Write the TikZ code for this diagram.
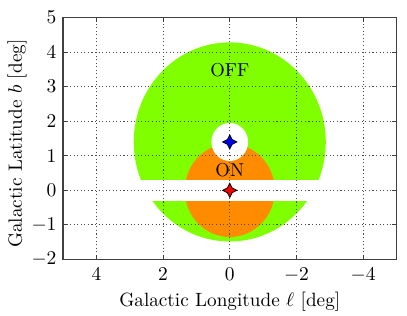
\documentclass[tikz,border=0pt]{standalone}
\usepackage{tikz}
\usepackage{amsmath}
\usetikzlibrary{
  shapes.geometric,
  positioning
}
\definecolor{regOff}{HTML}{7FFF00}
\definecolor{regOn}{HTML}{FF8C00}
\definecolor{srcRed}{HTML}{F00000}
\definecolor{srcBlue}{HTML}{0000F0}
\definecolor{axFrame}{HTML}{404040}
\tikzset{
  offregion/.style={fill=regOff},
  onregion/.style={fill=regOn},
  cutout/.style={fill=white},
  gridline/.style={line width=0.5pt, black!70, dash pattern=on 0.6pt off 1.4pt},
  frameline/.style={line width=1pt, axFrame},
  tickmark/.style={line width=0.6pt, axFrame},
  ticklabel/.style={font=\fontsize{10.5}{12}\selectfont, inner sep=1pt},
  axlabel/.style={font=\fontsize{10.8}{13}\selectfont, inner sep=1pt},
  regtag/.style={font=\fontsize{10.5}{12}\selectfont, inner sep=0pt},
  source/.style={
    star, star points=4, star point ratio=2.1, minimum size=8pt,
    inner sep=0pt, draw=black, line width=0.4pt
  }
}

\begin{document}
\begin{tikzpicture}[x={(-0.659cm,0)}, y={(0,0.683cm)}]
  \useasboundingbox (6.89,-3.623) rectangle (-5.315,5.507);
  % regions
  \fill[offregion] (0,1.4) circle [radius=2.88];
  \fill[onregion] (0,0) circle [radius=1.35];
  \fill[cutout] (0,1.4) circle [radius=0.55];
  \fill[cutout] (3,-0.3) rectangle (-3,0.3);
  % grid
  \foreach \l in {-4,-2,0,2,4}
    \draw[gridline] (\l,-2) -- (\l,5);
  \foreach \b in {-1,0,...,4}
    \draw[gridline] (5,\b) -- (-5,\b);
  % ticks
  \foreach \l in {-4,-2,0,2,4} {
    \draw[tickmark] (\l,-2) -- ++(0,2.4pt);
    \draw[tickmark] (\l,5) -- ++(0,-2.4pt);
    \node[ticklabel, anchor=north] (xt\l) at ([yshift=-3.5pt]\l,-2) {$\l$};
  }
  \foreach \b in {-2,-1,0,...,5} {
    \draw[tickmark] (5,\b) -- ++(2.4pt,0);
    \draw[tickmark] (-5,\b) -- ++(-2.4pt,0);
    \node[ticklabel, anchor=east] (yt\b) at ([xshift=-2.5pt]5,\b) {$\b$};
  }
  \draw[frameline] (5,-2) rectangle (-5,5);
  % sources and labels
  \node[source, fill=srcBlue] (blueSrc) at (0,1.4) {};
  \node[source, fill=srcRed] (redSrc) at (0,0) {};
  \node[regtag] (offTag) at (0,3.48) {OFF};
  \node[regtag] (onTag) at (0,0.58) {ON};
  \node[axlabel, below=4pt of xt0] (xLabel) {Galactic Longitude $\ell$ [deg]};
  \node[axlabel, rotate=90] (yLabel) at (6.38,1.35) {Galactic Latitude $b$ [deg]};
\end{tikzpicture}
\end{document}
